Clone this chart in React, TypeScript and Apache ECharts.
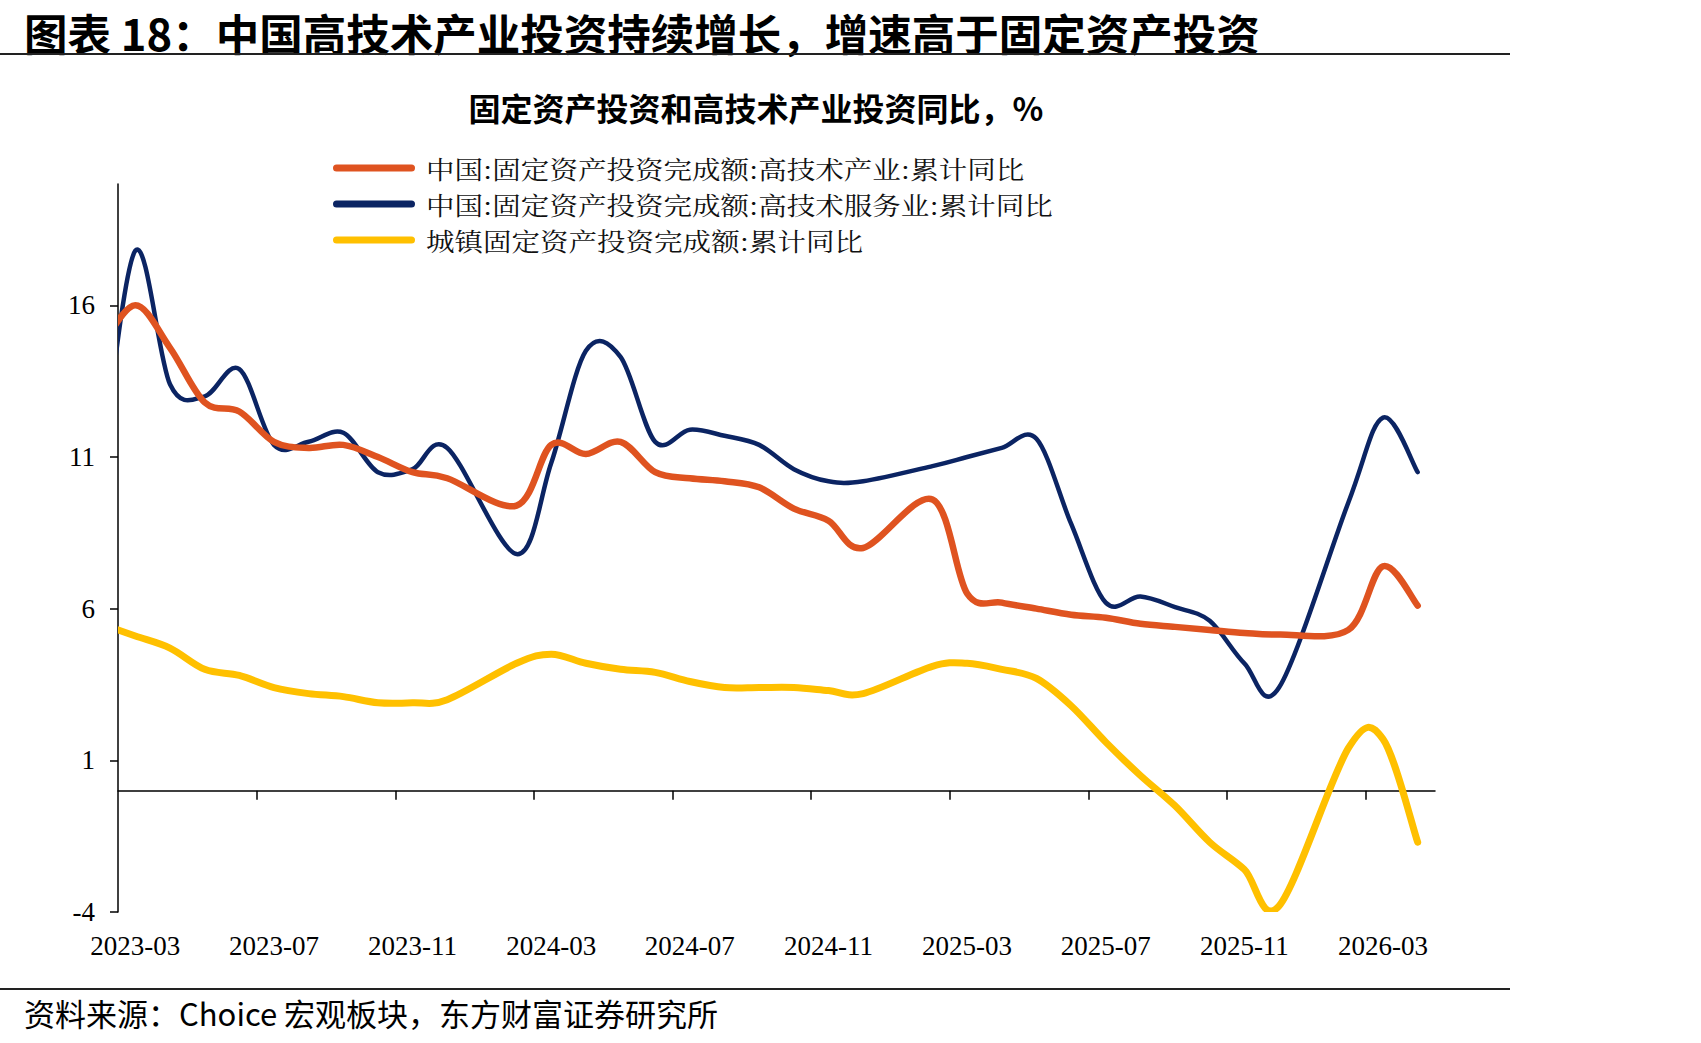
import React, { useEffect, useRef } from "react";
import * as echarts from "echarts";

// Monthly cumulative YoY growth (%), Jan-Feb reported together as "-02"
const months = [
  "2023-02", "2023-03", "2023-04", "2023-05", "2023-06", "2023-07", "2023-08", "2023-09", "2023-10", "2023-11", "2023-12",
  "2024-02", "2024-03", "2024-04", "2024-05", "2024-06", "2024-07", "2024-08", "2024-09", "2024-10", "2024-11", "2024-12",
  "2025-02", "2025-03", "2025-04", "2025-05", "2025-06", "2025-07", "2025-08", "2025-09", "2025-10", "2025-11", "2025-12",
  "2026-02", "2026-03", "2026-04",
];

const hiTechIndustry = [
  14.6, 16.0, 14.6, 12.8, 12.5, 11.5, 11.3, 11.4, 11.0, 10.5, 10.3,
  9.4, 11.4, 11.1, 11.5, 10.5, 10.3, 10.2, 10.0, 9.3, 8.9, 8.0,
  9.6, 6.5, 6.2, 6.0, 5.8, 5.7, 5.5, 5.4, 5.3, 5.2, 5.15,
  5.3, 7.4, 6.1,
];

const hiTechServices = [
  10.4, 17.8, 13.4, 13.0, 13.9, 11.4, 11.5, 11.8, 10.5, 10.6, 11.3,
  7.8, 10.8, 14.5, 14.3, 11.5, 11.9, 11.7, 11.4, 10.6, 10.2, 10.2,
  10.7, 11.0, 11.3, 11.6, 8.8, 6.2, 6.4, 6.05, 5.6, 4.2, 3.4,
  9.5, 12.3, 10.5,
];

const urbanFAI = [
  5.5, 5.1, 4.7, 4.0, 3.8, 3.4, 3.2, 3.1, 2.9, 2.9, 3.0,
  4.2, 4.5, 4.2, 4.0, 3.9, 3.6, 3.4, 3.4, 3.4, 3.3, 3.2,
  4.1, 4.2, 4.0, 3.7, 2.8, 1.6, 0.5, -0.5, -1.7, -2.6, -3.8,
  1.4, 1.7, -1.7,
];

const xTickLabels = [
  "2023-03", "2023-07", "2023-11", "2024-03", "2024-07",
  "2024-11", "2025-03", "2025-07", "2025-11", "2026-03",
];

const yTickValues = [-4, 1, 6, 11, 16];

const seriesNames = [
  "中国:固定资产投资完成额:高技术产业:累计同比",
  "中国:固定资产投资完成额:高技术服务业:累计同比",
  "城镇固定资产投资完成额:累计同比",
];

const COLORS = ["#DF5320", "#0B2463", "#FFC000"];
const WIDTHS = [6.5, 4.5, 7];

// months counted from 2023-03 (band centres sit on integer positions)
const monthIndex = (m: string) => {
  const [y, mo] = m.split("-").map(Number);
  return (y - 2023) * 12 + (mo - 3);
};

const AXIS_MIN = -0.5;
const AXIS_MAX = 37.5;

const SERIF = '"Times New Roman", "Liberation Serif", serif';
const CJK_SANS = '"Noto Sans CJK SC", "Noto Sans", sans-serif';
const CJK_SERIF = '"Noto Serif CJK SC", "Noto Sans CJK SC", serif';

// Catmull-Rom spline through pixel points, written as cubic Bezier segments
const splinePath = (pts: number[][]) => {
  let d = `M${pts[0][0]},${pts[0][1]}`;
  for (let k = 0; k < pts.length - 1; k++) {
    const p0 = pts[k - 1] ?? pts[k];
    const p1 = pts[k];
    const p2 = pts[k + 1];
    const p3 = pts[k + 2] ?? pts[k + 1];
    const c1x = p1[0] + (p2[0] - p0[0]) / 6;
    const c1y = p1[1] + (p2[1] - p0[1]) / 6;
    const c2x = p2[0] - (p3[0] - p1[0]) / 6;
    const c2y = p2[1] - (p3[1] - p1[1]) / 6;
    d += ` C${c1x},${c1y} ${c2x},${c2y} ${p2[0]},${p2[1]}`;
  }
  return d;
};

// Key block: swatch line + name per row
const legendGraphics = () =>
  seriesNames.flatMap((name, s) => {
    const cy = 168 + s * 36;
    return [
      {
        type: "line",
        shape: { x1: 336.5, y1: cy, x2: 411.5, y2: cy },
        style: { stroke: COLORS[s], lineWidth: 7, lineCap: "round" },
      },
      {
        type: "text",
        x: 426,
        y: cy,
        scaleX: 1.15,
        style: {
          text: name,
          fontFamily: CJK_SERIF,
          fontSize: 24.8,
          fill: "#111",
          verticalAlign: "middle",
        },
      },
    ];
  });

export default function App() {
  const ref = useRef<HTMLDivElement>(null);

  useEffect(() => {
    if (!ref.current) return;
    const chart = echarts.init(ref.current, undefined, { renderer: "svg" });

    const labelPos = xTickLabels.map(monthIndex);
    const labelByPos = new Map(labelPos.map((p, k) => [p, xTickLabels[k]]));
    const tickPos = labelPos.slice(1).map((p) => p - 0.5);

    const seriesValues = [hiTechIndustry, hiTechServices, urbanFAI];

    chart.setOption({
      animation: false,
      backgroundColor: "#ffffff",
      grid: { left: 118, top: 184, width: 1317, height: 728, containLabel: false },
      xAxis: [
        {
          type: "value",
          min: AXIS_MIN,
          max: AXIS_MAX,
          axisLine: { show: true, onZero: true, lineStyle: { color: "#000", width: 1.5 } },
          axisTick: {
            show: true,
            customValues: tickPos,
            length: 9,
            lineStyle: { color: "#000", width: 1.5 },
          },
          axisLabel: { show: false },
          splitLine: { show: false },
        },
        {
          type: "value",
          min: AXIS_MIN,
          max: AXIS_MAX,
          position: "bottom",
          axisLine: { show: false, onZero: false },
          axisTick: { show: false },
          splitLine: { show: false },
          axisLabel: {
            show: true,
            customValues: labelPos,
            formatter: (v: number) => labelByPos.get(Math.round(v)) ?? "",
            fontFamily: SERIF,
            fontSize: 27,
            color: "#000",
            margin: 20,
          },
        },
      ],
      yAxis: {
        type: "value",
        min: -4,
        max: 20,
        axisLine: { show: true, onZero: false, lineStyle: { color: "#000", width: 1.5 } },
        axisTick: {
          show: true,
          customValues: yTickValues,
          length: 8,
          lineStyle: { color: "#000", width: 1.5 },
        },
        axisLabel: {
          customValues: yTickValues,
          fontFamily: SERIF,
          fontSize: 27,
          color: "#000",
          margin: 23,
        },
        splitLine: { show: false },
      },
      series: seriesNames.map((name, s) => {
        const points = months.map((m, k) => [monthIndex(m), seriesValues[s][k]]);
        return {
          name,
          type: "custom",
          coordinateSystem: "cartesian2d",
          xAxisIndex: 0,
          yAxisIndex: 0,
          clip: true,
          encode: { x: 0, y: 1 },
          data: points,
          itemStyle: { color: COLORS[s] },
          z: 3 - s,
          renderItem: (params: any, api: any) => {
            if (params.dataIndex !== points.length - 1) return null;
            const px = points.map((p) => api.coord(p));
            return {
              type: "path",
              shape: { pathData: splinePath(px) },
              style: {
                fill: "none",
                stroke: COLORS[s],
                lineWidth: WIDTHS[s],
                lineCap: "round",
                lineJoin: "round",
              },
            };
          },
        };
      }),
      graphic: [
        {
          type: "text",
          x: 24,
          y: 32,
          style: {
            text: "图表 18：中国高技术产业投资持续增长，增速高于固定资产投资",
            fontFamily: CJK_SANS,
            fontWeight: "bold",
            fontSize: 43.5,
            fill: "#000",
            verticalAlign: "middle",
          },
        },
        {
          type: "line",
          shape: { x1: 0, y1: 54, x2: 1510, y2: 54 },
          style: { stroke: "#222", lineWidth: 2 },
        },
        {
          type: "text",
          x: 756,
          y: 107,
          style: {
            text: "固定资产投资和高技术产业投资同比，%",
            fontFamily: CJK_SANS,
            fontWeight: "bold",
            fontSize: 32,
            fill: "#000",
            align: "center",
            verticalAlign: "middle",
          },
        },
        ...legendGraphics(),
        {
          type: "line",
          shape: { x1: 0, y1: 989, x2: 1510, y2: 989 },
          style: { stroke: "#222", lineWidth: 2 },
        },
        {
          type: "text",
          x: 24,
          y: 1012,
          style: {
            text: "资料来源：Choice 宏观板块，东方财富证券研究所",
            fontFamily: CJK_SANS,
            fontSize: 31,
            fill: "#000",
            verticalAlign: "middle",
          },
        },
      ],
    });

    return () => chart.dispose();
  }, []);

  return (
    <div
      ref={ref}
      style={{ position: "absolute", left: 0, top: 0, width: 1701, height: 1043, background: "#fff" }}
    />
  );
}
